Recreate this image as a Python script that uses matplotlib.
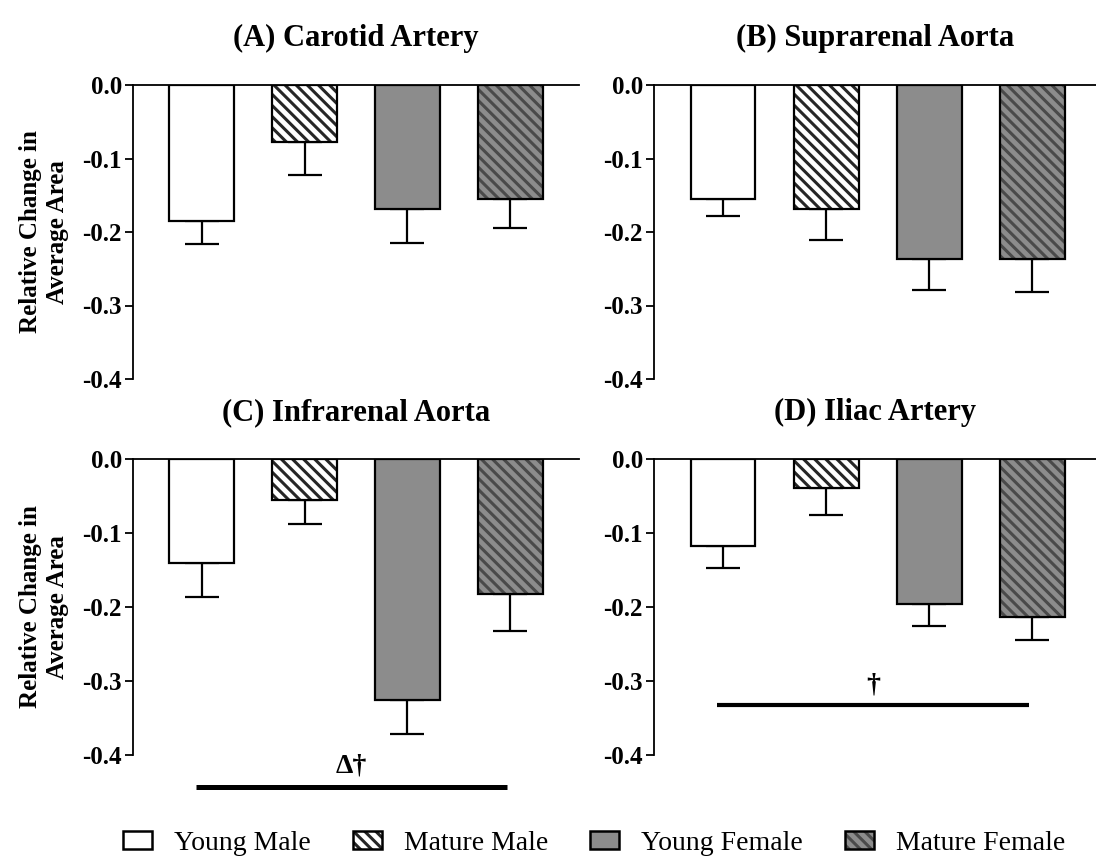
import matplotlib.pyplot as plt
from matplotlib.patches import Patch

plt.rcParams['font.family'] = ['Liberation Serif', 'DejaVu Serif']
plt.rcParams['axes.unicode_minus'] = False
plt.rcParams['hatch.linewidth'] = 2.2

# data
groups = ['Young Male', 'Mature Male', 'Young Female', 'Mature Female']
titles = ['(A) Carotid Artery', '(B) Suprarenal Aorta', '(C) Infrarenal Aorta', '(D) Iliac Artery']

carotid_mean = [-0.185, -0.077, -0.169, -0.155]
carotid_sem = [0.032, 0.045, 0.046, 0.040]
suprarenal_mean = [-0.155, -0.169, -0.237, -0.237]
suprarenal_sem = [0.023, 0.042, 0.042, 0.045]
infrarenal_mean = [-0.141, -0.055, -0.326, -0.182]
infrarenal_sem = [0.046, 0.033, 0.046, 0.050]
iliac_mean = [-0.117, -0.039, -0.196, -0.213]
iliac_sem = [0.030, 0.036, 0.030, 0.032]

yticks = [0.0, -0.1, -0.2, -0.3, -0.4]

# styles
faces = ['white', 'white', '#8c8c8c', '#8c8c8c']
hatches = [None, '\\\\\\', None, '\\\\\\']
hatch_cols = ['black', '#262626', 'black', '#4a4a4a']

fig = plt.figure(figsize=(10.96, 8.59), dpi=100)

# axes boxes in pixels: left, top, right, bottom
boxes = [(133, 85, 579, 379), (654, 85, 1096, 379),
         (133, 459, 579, 755), (654, 459, 1096, 755)]
xlims = [(-0.67, 3.67), (-0.67, 3.62), (-0.67, 3.67), (-0.67, 3.62)]
means = [carotid_mean, suprarenal_mean, infrarenal_mean, iliac_mean]
sems = [carotid_sem, suprarenal_sem, infrarenal_sem, iliac_sem]

W, H = 1096, 859
axes = []
for k in range(4):
    l, t, r, b = boxes[k]
    ax = fig.add_axes([l / W, 1 - b / H, (r - l) / W, (b - t) / H])
    axes.append(ax)
    x = list(range(4))
    m = means[k]
    s = sems[k]
    for i in x:
        ax.bar(i, m[i], width=0.63, color=faces[i], edgecolor=hatch_cols[i],
               hatch=hatches[i], linewidth=0, zorder=2)
        ax.bar(i, m[i], width=0.63, fill=False, edgecolor='black',
               linewidth=1.6, zorder=3)
    ax.errorbar(x, m, yerr=[s, [0] * 4], fmt='none', ecolor='black',
                elinewidth=1.6, capsize=12, capthick=1.6, zorder=1)
    ax.set_xlim(*xlims[k])
    ax.set_ylim(-0.4, 0.0)
    ax.set_yticks(yticks)
    ax.set_yticklabels(['%.1f' % v for v in yticks], fontsize=18, fontweight='bold')
    ax.set_xticks([])
    ax.spines['bottom'].set_visible(False)
    ax.spines['right'].set_visible(False)
    ax.spines['left'].set_linewidth(1.3)
    ax.spines['top'].set_linewidth(1.3)
    ax.tick_params(axis='y', direction='out', length=6, width=1.3, pad=2)
    ax.set_title(titles[k], fontsize=22, fontweight='bold', pad=28)
    if k in (0, 2):
        ax.text(-0.2, 0.5, 'Relative Change in\nAverage Area', transform=ax.transAxes,
                rotation=90, ha='center', va='center', fontsize=18,
                fontweight='bold', linespacing=1.25)

# significance bars
axes[2].plot([-0.06, 2.97], [-0.443, -0.443], color='black', lw=3.6,
             clip_on=False, solid_capstyle='butt')
axes[2].text(1.455, -0.432, '\u0394\u2020', ha='center', va='bottom',
             fontsize=20, fontweight='bold')
axes[3].plot([-0.06, 2.97], [-0.333, -0.333], color='black', lw=3.0,
             clip_on=False, solid_capstyle='butt')
axes[3].text(1.455, -0.322, '\u2020', ha='center', va='bottom',
             fontsize=20, fontweight='bold')

# legend
handles = []
for i in range(4):
    fill = Patch(facecolor=faces[i], edgecolor=hatch_cols[i], hatch=hatches[i], linewidth=0)
    edge = Patch(facecolor='none', edgecolor='black', linewidth=1.8)
    handles.append((fill, edge))
fig.legend(handles, groups, loc='center', bbox_to_anchor=(0.542, 0.018), ncol=4,
           frameon=False, fontsize=20, handlelength=1.05, handleheight=0.6,
           handletextpad=0.8, columnspacing=1.5)

fig.savefig('out.png', dpi=100)
